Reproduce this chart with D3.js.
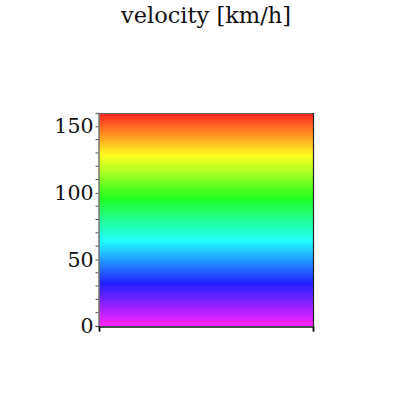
<!DOCTYPE html>
<html><head><meta charset="utf-8">
<script src="https://cdn.jsdelivr.net/npm/d3@7"></script>
<style>body{margin:0;background:#fff}svg{display:block}</style>
</head><body>
<svg id="c" width="415" height="415"></svg>
<script>
const title = "velocity [km/h]";
const domain = [0, 160];
const majorTicks = [0, 50, 100, 150];
const minorTicks = [10, 20, 30, 40, 60, 70, 80, 90, 110, 120, 130, 140];
// hue stops: value -> hue (deg)
const stopValues = [0, 32, 64, 96, 128, 160];
const stopHues = [300, 240, 180, 120, 60, 0];

const svg = d3.select("#c");
const L = 99, R = 313, T = 113, B = 326;
const y = d3.scaleLinear().domain(domain).range([B, T]);
const hue = d3.scaleLinear().domain(stopValues).range(stopHues);

const defs = svg.append("defs");
const grad = defs.append("linearGradient").attr("id", "g")
  .attr("x1", 0).attr("y1", 1).attr("x2", 0).attr("y2", 0);
d3.range(0, 161, 4).forEach(v => {
  grad.append("stop").attr("offset", v / 160)
    .attr("stop-color", d3.hsl(hue(v), 1, 0.565).formatHex());
});

svg.append("rect").attr("x", L).attr("y", y(domain[1]))
  .attr("width", R - L).attr("height", y(domain[0]) - y(domain[1]))
  .attr("fill", "url(#g)");

// top border
svg.append("line").attr("x1", L).attr("x2", R).attr("y1", T + 0.5).attr("y2", T + 0.5)
  .attr("stroke", "#666").attr("stroke-width", 1);
// right border
svg.append("line").attr("x1", R + 0.5).attr("x2", R + 0.5).attr("y1", T).attr("y2", B)
  .attr("stroke", "#222").attr("stroke-width", 1.2);

// left axis
const axisG = svg.append("g").attr("transform", `translate(${L - 0.5},0)`);
axisG.call(d3.axisLeft(y).tickValues(majorTicks).tickSize(3).tickPadding(2)
  .tickFormat(d3.format("d")));
axisG.selectAll(".domain").attr("stroke", "#777").attr("stroke-width", 1.5);
axisG.selectAll(".tick line").attr("stroke", "#555");
axisG.selectAll(".tick text").attr("font-family", "DejaVu Serif").attr("font-size", 20.5)
  .attr("fill", "#111");
axisG.selectAll(".minor").data(minorTicks).enter().append("line")
  .attr("x1", -3).attr("x2", 0).attr("y1", d => y(d)).attr("y2", d => y(d))
  .attr("stroke", "#555");

// bottom axis
const xs = d3.scaleLinear().domain([0, 1]).range([L, R]);
const bx = svg.append("g").attr("transform", `translate(0,${B + 0.5})`);
bx.call(d3.axisBottom(xs).tickValues([0, 1]).tickSize(5).tickFormat(""));
bx.select(".domain").attr("stroke", "#111").attr("stroke-width", 1.5);
bx.selectAll(".tick line").attr("stroke", "#111").attr("stroke-width", 1.5);

svg.append("text").attr("x", 206).attr("y", 23).attr("text-anchor", "middle")
  .attr("font-family", "DejaVu Serif").attr("font-size", 22.5).attr("fill", "#111")
  .text(title);
</script>
</body></html>
